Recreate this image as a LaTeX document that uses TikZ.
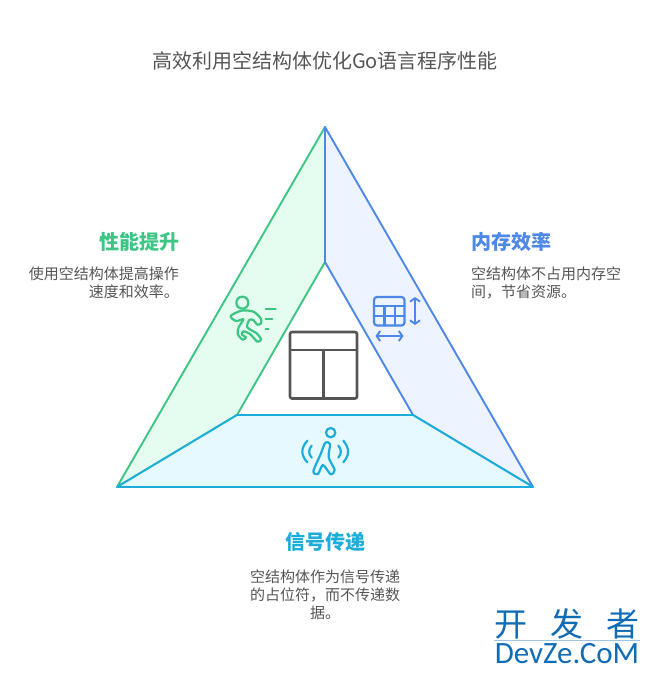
\documentclass[tikz,border=0pt]{standalone}
\usepackage{fontspec}
\usepackage{xcolor}
\usetikzlibrary{arrows.meta}
\setmainfont{Noto Sans CJK SC}
\newfontfamily\markfont{Carlito}
\definecolor{textgray}{HTML}{555555}
\definecolor{perfgreen}{HTML}{3CC583}
\definecolor{perffill}{HTML}{E4FDF0}
\definecolor{memblue}{HTML}{4E88E7}
\definecolor{memfill}{HTML}{EDF3FF}
\definecolor{sigcyan}{HTML}{1CADDA}
\definecolor{sigfill}{HTML}{E6F9FF}
\definecolor{markblue}{HTML}{0F6CB5}
\tikzstyle{face} = [line width=1.9pt, line join=round]
\tikzstyle{icon} = [line width=2.2pt, line cap=round, line join=round]
\tikzstyle{head} = [font=\fontsize{20}{24}\selectfont\bfseries, inner sep=0pt]
\tikzstyle{body} = [font=\fontsize{15}{18}\selectfont, text=textgray, inner sep=0pt]
\tikzstyle{tip} = [line width=1.9pt, {Straight Barb[length=3.5pt,width=10pt]}-{Straight Barb[length=3.5pt,width=10pt]}]

\begin{document}
\begin{tikzpicture}[x=1pt, y=-1pt]
        \useasboundingbox (0,0) rectangle (650,674);

        % Corners of the pyramid
        \coordinate (apex) at (325,127);
        \coordinate (left) at (117,487);
        \coordinate (right) at (533,487);
        \coordinate (innertop) at (325,262);
        \coordinate (innerleft) at (237,415);
        \coordinate (innerright) at (413,415);

        % Draw faces
        \draw [face, draw=perfgreen, fill=perffill] (apex) -- (innertop) -- (innerleft) -- (left) -- cycle;
        \draw [face, draw=memblue, fill=memfill] (apex) -- (right) -- (innerright) -- (innertop) -- cycle;
        \draw [face, draw=sigcyan, fill=sigfill] (left) -- (innerleft) -- (innerright) -- (right) -- cycle;

        % Place text
        \node [font=\fontsize{20}{24}\selectfont, text=textgray, inner sep=0pt] (title) at (325,61) {高效利用空结构体优化Go语言程序性能};
        \node [head, text=perfgreen, anchor=east] (perfhead) at (180,241.5) {性能提升};
        \node [body, anchor=north east, align=right] (perfbody) at (179,267) {使用空结构体提高操作\\速度和效率。};
        \node [head, text=memblue, anchor=west] (memhead) at (471,241.5) {内存效率};
        \node [body, anchor=north west, align=left] (membody) at (471,267) {空结构体不占用内存空\\间，节省资源。};
        \node [head, text=sigcyan] (sighead) at (325,541.5) {信号传递};
        \node [body, anchor=north, align=center] (sigbody) at (325,570) {空结构体作为信号传递\\的占位符，而不传递数\\据。};

        % Centre table
        \draw [line width=2.6pt, draw=textgray, rounded corners=2pt] (290,332) rectangle (357,398.5);
        \draw [line width=2.3pt, draw=textgray] (290,350) -- (357,350);
        \draw [line width=2.3pt, draw=textgray] (323.5,350) -- (323.5,398.5);

        % Memory icon
        \draw [icon, draw=memblue, rounded corners=3pt] (374,297) rectangle (404.5,325.5);
        \draw [icon, draw=memblue] (374,306) -- (404.5,306);
        \draw [icon, draw=memblue] (374,316) -- (404.5,316);
        \draw [icon, draw=memblue] (384.5,306) -- (384.5,325.5);
        \draw [icon, draw=memblue] (395,306) -- (395,325.5);
        \coordinate (vtop) at (415,297);
        \coordinate (vbot) at (415,325);
        \coordinate (hleft) at (375.5,336);
        \coordinate (hright) at (403.5,336);
        \draw [tip, memblue] (vtop) -- (vbot);
        \draw [tip, memblue] (hleft) -- (hright);

        % Runner icon
        \begin{scope}[shift={(200,270)}, scale=1/3]
            \draw [icon, draw=perfgreen] (127,98) circle (18);
            \draw [icon, draw=perfgreen] plot [smooth cycle, tension=0.5] coordinates {(92,138) (125,122) (160,125) (182,145) (183,160) (172,164) (160,150) (148,150) (142,172) (170,190) (183,208) (172,215) (150,192) (130,184) (126,194) (138,202) (128,209) (113,192) (116,172) (130,148) (108,153)};
            \draw [icon, draw=perfgreen] (197,117) -- (227,117);
            \draw [icon, draw=perfgreen] (197,146) -- (217,146);
            \draw [icon, draw=perfgreen] (197,176) -- (206,176);
        \end{scope}

        % Walker icon
        \begin{scope}[shift={(200,270)}, scale=1/3]
            \draw [icon, draw=sigcyan] (392,488) circle (14);
            \draw [icon, draw=sigcyan] plot [smooth cycle, tension=0.45] coordinates {(376,518) (390,522) (386,562) (404,600) (392,613) (369,585) (354,612) (340,604) (362,552)};
            \draw [icon, draw=sigcyan] (322,512) .. controls (302,535) and (302,555) .. (322,577);
            \draw [icon, draw=sigcyan] (335,527) .. controls (325,538) and (325,552) .. (335,563);
            \draw [icon, draw=sigcyan] (415,527) .. controls (425,538) and (425,552) .. (415,563);
            \draw [icon, draw=sigcyan] (430,512) .. controls (449,535) and (449,555) .. (430,577);
        \end{scope}

        % Site mark
        \node [font=\fontsize{33}{36}\selectfont, text=markblue, inner sep=0pt] (marktop) at (567,623.5) {开\hspace{23pt}发\hspace{23pt}者};
        \draw [line width=0.6pt, draw=markblue!40] (494,640) -- (640,640);
        \node [font=\markfont\fontsize{31}{34}\selectfont, text=markblue, inner sep=0pt] (markbot) at (567,653.5) {DevZe.CoM};
    \end{tikzpicture}
\end{document}
